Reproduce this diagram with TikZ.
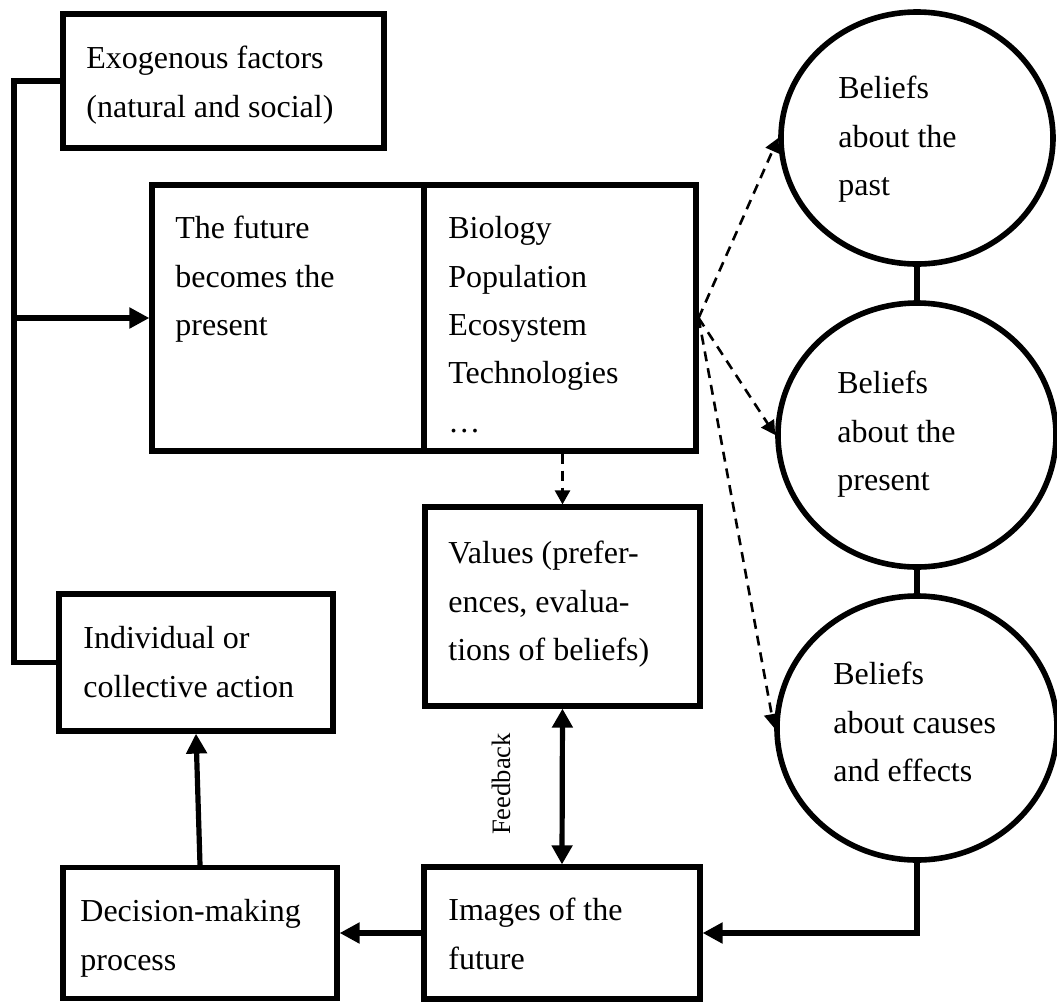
\documentclass[tikz,border=0pt]{standalone}
\usepackage{fontspec}
\setmainfont{Liberation Serif}
\usetikzlibrary{arrows.meta,shapes.geometric}
\begin{document}
\begin{tikzpicture}[x=0.5pt,y=-0.5pt,
  box/.style={draw, rectangle, line width=2.6pt, inner sep=0pt},
  blob/.style={draw, ellipse, line width=2.8pt, inner sep=0pt},
  txt/.style={anchor=north west, inner sep=0pt, align=left,
    font=\fontsize{16}{24.2}\selectfont},
  link/.style={line width=2.6pt},
  solidarrow/.style={link, -{Triangle[length=10pt,width=10pt]}},
  twoway/.style={link, {Triangle[length=9.5pt,width=10pt]}-{Triangle[length=9.5pt,width=10pt]}},
  dasharrow/.style={line width=1.3pt, dash pattern=on 5pt off 3.5pt,
    -{Triangle[length=7pt,width=7.5pt]}}]
\useasboundingbox (0,0) rectangle (1057,1003);

% rectangular blocks
\node[box, minimum width=160.5pt, minimum height=67pt]   (exo)  at (223.5,81) {};
\node[box, minimum width=272pt,   minimum height=133pt]  (fut)  at (424,318) {};
\draw[link] (fut.north) -- (fut.south);
\node[box, minimum width=137.5pt, minimum height=99.5pt] (val)  at (562.5,606.5) {};
\node[box, minimum width=137pt,   minimum height=68.5pt] (act)  at (196,662.5) {};
\node[box, minimum width=137pt,   minimum height=65.5pt] (dec)  at (200,933) {};
\node[box, minimum width=138pt,   minimum height=66pt]   (img)  at (562,933) {};

% belief ellipses
\node[blob, minimum width=136pt, minimum height=126pt] (past)  at (917,138) {};
\node[blob, minimum width=139pt, minimum height=132pt] (pres)  at (917,435) {};
\node[blob, minimum width=140pt, minimum height=132pt] (cause) at (917,728) {};

% texts
\node[txt] (exoT) at (86,34.4)   {\strut Exogenous factors\\(natural and social)};
\node[txt] (futT) at (175,204.4) {\strut The future\\becomes the\\present};
\node[txt] (domT) at (448,204.4) {\strut Biology\\Population\\Ecosystem\\Technologies\\…};
\node[txt] (valT) at (448,529.4) {\strut Values (prefer-\\ences, evalua-\\tions of beliefs)};
\node[txt] (actT) at (83,614.4)  {\strut Individual or\\collective action};
\node[txt] (decT) at (80,887.4)  {\strut Decision-making\\process};
\node[txt] (imgT) at (448,886.4) {\strut Images of the\\future};
\node[txt] (pastT)  at (838,64.4)  {\strut Beliefs\\about the\\past};
\node[txt] (presT)  at (837,359.4) {\strut Beliefs\\about the\\present};
\node[txt] (causeT) at (833,650.4) {\strut Beliefs\\about causes\\and effects};

% left feedback spine
\coordinate (spine) at (14,0);
\draw[link] (exo.west) -- (exo.west -| spine) -- (act.west -| spine) -- (act.west);
\draw[solidarrow] (fut.west -| spine) -- (fut.west);

% dashed influences
\draw[dasharrow] (fut.south -| val.north) -- (val.north);
\draw[dasharrow] (fut.east) -- (past.west);
\draw[dasharrow] (fut.east) -- (pres.west);
\draw[dasharrow] (fut.east) -- (cause.west);

% links between the beliefs
\draw[link] (past.south) -- (pres.north);
\draw[link] (pres.south) -- (cause.north);
\draw[solidarrow] (cause.south) |- (img.east);

% lower chain
\draw[twoway] (val.south) -- (img.north);
\node[rotate=90, inner sep=0pt, font=\fontsize{13.3}{16}\selectfont] (fb) at (501,784) {Feedback};
\draw[solidarrow] (img.west) -- (dec.east);
\draw[solidarrow] (dec.north) -- (act.south);
\end{tikzpicture}
\end{document}
